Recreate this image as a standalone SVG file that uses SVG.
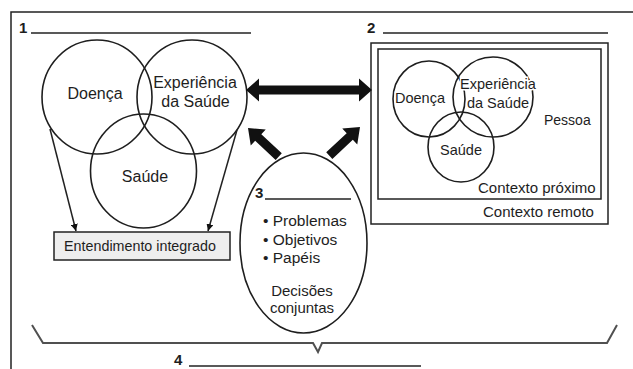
<svg xmlns="http://www.w3.org/2000/svg" xmlns:xlink="http://www.w3.org/1999/xlink" width="633" height="369" viewBox="0 0 633 369">
<style>
  text { font-family: "Liberation Sans", Arial, sans-serif; fill: #1e1e1e; }
  .lbl { font-size: 15px; font-weight: bold; }
  .big { font-size: 16px; }
  .mid { font-size: 15px; }
  .sm { font-size: 14.5px; }
  .halo { paint-order: stroke; stroke: #fff; stroke-width: 3px; }
  .ln { stroke: #222; stroke-width: 1.5; fill: none; }
  .circ { stroke: #1e1e1e; stroke-width: 1.6; fill: none; }
  .brace { stroke: #505050; stroke-width: 2; fill: none; }
  .fat { fill: #111; }
</style>
<defs>
  <marker id="ah" viewBox="0 0 10 10" refX="10" refY="5" markerWidth="7" markerHeight="7" markerUnits="userSpaceOnUse" orient="auto">
    <path d="M0,0 L10,5 L0,10 z" fill="#111"/>
  </marker>
  <path id="diagArrow" d="M0,0 L-14,-11 L-14,-4.5 L-42,-4.5 L-42,4.5 L-14,4.5 L-14,11 Z"/>
</defs>
<rect width="633" height="369" fill="#fff"/>

<!-- outer frame -->
<path class="ln" d="M11,369 L11,12 L633,12" stroke="#333"/>

<!-- section 1 -->
<g id="section1">
  <text class="lbl" x="19" y="33">1</text>
  <line class="ln" x1="31" y1="33" x2="251" y2="33"/>
  <g id="n-doenca">
    <ellipse class="circ" cx="97" cy="97" rx="55" ry="57"/>
    <text class="big" x="95" y="99" text-anchor="middle">Doença</text>
  </g>
  <g id="n-experiencia">
    <ellipse class="circ" cx="192" cy="97" rx="55" ry="57"/>
    <text class="big" x="195" y="88" text-anchor="middle">Experiência</text>
    <text class="big" x="195.5" y="107" text-anchor="middle">da Saúde</text>
  </g>
  <g id="n-saude">
    <ellipse class="circ" cx="143.5" cy="171" rx="53" ry="57"/>
    <text class="big" x="145" y="182" text-anchor="middle">Saúde</text>
  </g>
  <g id="n-entendimento">
    <rect x="54" y="232" width="176" height="28" fill="#eeeeee" stroke="#222" stroke-width="1.5"/>
    <text x="140" y="251" font-size="14.3" text-anchor="middle">Entendimento integrado</text>
  </g>
</g>

<!-- section 2 -->
<g id="section2">
  <text class="lbl" x="367" y="33">2</text>
  <line class="ln" x1="383" y1="33" x2="608" y2="33"/>
  <g id="n-contexto-remoto">
    <rect class="ln" x="371" y="43" width="237" height="181"/>
    <text class="mid" x="483" y="217">Contexto remoto</text>
  </g>
  <g id="n-contexto-proximo">
    <rect class="ln" x="378" y="49" width="223" height="150"/>
    <text class="mid" x="478" y="193">Contexto próximo</text>
  </g>
  <g id="n-pessoa">
    <text x="544" y="125" font-size="14">Pessoa</text>
  </g>
  <g id="n-doenca2">
    <ellipse class="circ" cx="429" cy="99" rx="36" ry="38"/>
  </g>
  <g id="n-experiencia2">
    <ellipse class="circ" cx="493" cy="97" rx="40" ry="40"/>
  </g>
  <g id="n-saude2">
    <ellipse class="circ" cx="461" cy="147" rx="33" ry="35"/>
  </g>
  <text class="sm halo" x="420" y="103" text-anchor="middle">Doença</text>
  <text class="sm halo" x="498" y="89" text-anchor="middle">Experiência</text>
  <text class="sm halo" x="498" y="108" text-anchor="middle">da Saúde</text>
  <text class="sm" x="461" y="155" text-anchor="middle">Saúde</text>
</g>

<!-- section 3 -->
<g id="section3">
  <ellipse class="circ" cx="303.5" cy="243" rx="63.5" ry="90"/>
  <text class="lbl" x="255" y="198">3</text>
  <line class="ln" x1="265" y1="199" x2="351" y2="199"/>
  <text x="263" y="226" font-size="15.5">• Problemas</text>
  <text x="263" y="244.5" font-size="15.5">• Objetivos</text>
  <text x="263" y="263" font-size="15.5">• Papéis</text>
  <text class="mid" x="302" y="296" text-anchor="middle">Decisões</text>
  <text class="mid" x="302" y="313" text-anchor="middle">conjuntas</text>
</g>

<!-- section 4 -->
<g id="section4">
  <path class="brace" d="M32,325 L43,343 L313,343 L318,352 L322,343 L607,343 L617,325"/>
  <text class="lbl" x="174" y="365">4</text>
  <line class="ln" x1="189" y1="366" x2="421" y2="366"/>
</g>

<!-- connectors -->
<g id="connectors">
  <line class="ln" x1="50" y1="129" x2="76" y2="231" marker-end="url(#ah)"/>
  <line class="ln" x1="237" y1="130" x2="208" y2="231" marker-end="url(#ah)"/>
  <path class="fat" d="M246,90 L259,78.5 L259,85.5 L359,85.5 L359,78.5 L372,90 L359,101.5 L359,94.5 L259,94.5 L259,101.5 Z"/>
  <use href="#diagArrow" class="fat" transform="translate(248,128) rotate(223)"/>
  <use href="#diagArrow" class="fat" transform="translate(360,127) rotate(-43)"/>
</g>
</svg>
